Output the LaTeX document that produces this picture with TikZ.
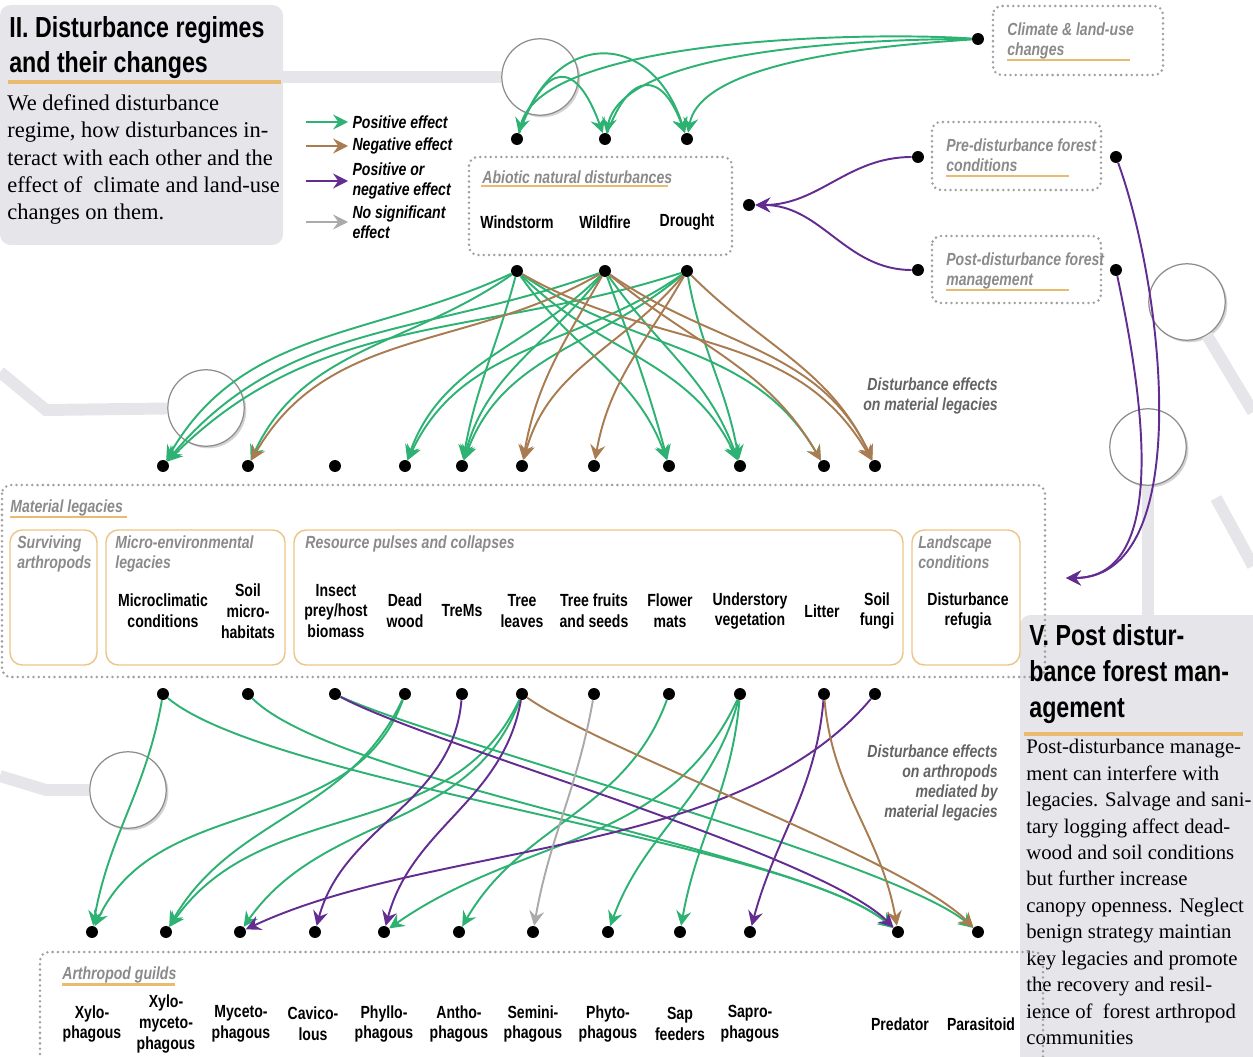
\documentclass[tikz,border=0pt]{standalone}
\usepackage{fontspec}
\setmainfont{Liberation Serif}
\newfontfamily\cond[FakeStretch=0.8]{Liberation Sans}
\usetikzlibrary{arrows.meta,shadows,positioning}

\definecolor{posc}{RGB}{46,178,115}
\definecolor{negc}{RGB}{168,124,80}
\definecolor{ambc}{RGB}{98,44,145}
\definecolor{nsec}{RGB}{170,170,170}
\definecolor{panel}{RGB}{230,230,234}
\definecolor{uorange}{RGB}{232,187,112}
\definecolor{titlegrey}{RGB}{138,138,138}
\definecolor{capgrey}{RGB}{100,100,100}
\definecolor{boxgrey}{RGB}{160,160,160}

\tikzset{
  dot/.style={circle, fill=black, inner sep=0pt, minimum size=6.8pt},
  lbl/.style={font=\cond\bfseries\fontsize{10}{11.9}\selectfont, align=center, inner sep=0pt},
  ttl/.style={font=\cond\bfseries\itshape\fontsize{10}{11.9}\selectfont, text=titlegrey, align=left, anchor=north west, inner sep=0pt},
  capt/.style={font=\cond\bfseries\itshape\fontsize{10}{11.5}\selectfont, text=capgrey, align=right, anchor=north east, inner sep=0pt},
  legtxt/.style={font=\cond\bfseries\itshape\fontsize{10}{11.3}\selectfont, align=left, anchor=west, inner sep=2.4pt},
  head/.style={font=\cond\bfseries\fontsize{16.5}{19.8}\selectfont, align=left, anchor=north west, inner sep=0pt},
  body/.style={font=\fontsize{12.8}{15.6}\selectfont, align=left, anchor=north west, inner sep=0pt},
  uline/.style={draw=uorange, line width=1.7pt},
  dotbox/.style={draw=boxgrey, line width=1.6pt, dash pattern=on 0pt off 3pt, line cap=round, rounded corners=5pt},
  catbox/.style={draw=uorange!85, line width=0.8pt, rounded corners=7pt},
  band/.style={draw=panel, line width=6.8pt},
  lens/.style={circle, draw=black!45, line width=0.7pt, fill=white, minimum size=43.5pt,
    drop shadow={opacity=0.35, shadow xshift=1.2pt, shadow yshift=-1.2pt}},
  eff/.style={line width=1.1pt, >={Stealth[length=8.5pt,width=8.5pt,inset=3pt]}, ->},
  posfx/.style={eff, color=posc},
  negfx/.style={eff, color=negc},
  ambfx/.style={eff, color=ambc},
  nsfx/.style={eff, color=nsec}
}

\begin{document}
\begin{tikzpicture}[x=0.02cm,y=-0.02cm]
  \useasboundingbox (0,0) rectangle (1253,1057);

  \fill[panel, rounded corners=6pt] (0,5) rectangle (283,245);
  \fill[panel, rounded corners=6pt] (1020,615) rectangle (1270,1075);

  \node[lens] (lensA) at (540,77) {};
  \node[lens] (lensB) at (206,408) {};
  \node[lens] (lensC) at (128,790) {};
  \node[lens] (lensD) at (1187,302) {};
  \node[lens] (lensE) at (1148,447) {};

  \draw[band] (283,77) -- (lensA);
  \draw[band] (0,372) -- (46,410) -- (lensB);
  \draw[band] (0,776) -- (46,790) -- (lensC);
  \draw[band] (lensE) -- (1148,615);
  \draw[band] (lensD) -- (1253,412);
  \draw[band] (1216,498) -- (1253,566);

  % section II
  \node[head] (headII) at (9,16) {II. Disturbance regimes\\and their changes};
  \draw[uline, line width=2.2pt] (8,82) -- (281,82);
  \node[body] (textII) at (7,94) {We defined disturbance\\regime, how disturbances in-\\teract with each other and the\\effect of \ climate and land-use\\changes on them.};

  % legend
  \node[legtxt] (leg1) at (348,122) {Positive effect};
  \node[legtxt] (leg2) at (348,146) {Negative effect};
  \node[legtxt] (leg3) at (348,181) {Positive or\\negative effect};
  \node[legtxt] (leg4) at (348,222) {No significant\\effect};
  \coordinate (la1) at (306,122);
  \coordinate (la2) at (306,146);
  \coordinate (la3) at (306,181);
  \coordinate (la4) at (306,222);
  \draw[posfx] (la1) -- (leg1);
  \draw[negfx] (la2) -- (leg2);
  \draw[ambfx] (la3) -- (leg3);
  \draw[nsfx] (la4) -- (leg4);

  % drivers
  \draw[dotbox] (993,6) rectangle (1163,75);
  \node[ttl] (climt) at (1007,22) {Climate \& land-use\\changes};
  \draw[uline] (1007,60) -- (1130,60);
  \draw[dotbox] (932,122) rectangle (1101,190);
  \node[ttl] (pret) at (946,138) {Pre-disturbance forest\\conditions};
  \draw[uline] (946,176) -- (1069,176);
  \draw[dotbox] (932,236) rectangle (1101,303);
  \node[ttl] (postt) at (946,252) {Post-disturbance forest\\management};
  \draw[uline] (946,290) -- (1069,290);

  % abiotic disturbances
  \draw[dotbox] (469,157) rectangle (732,255);
  \node[ttl] (abiot) at (482,170) {Abiotic natural disturbances};
  \draw[uline] (481,186) -- (668,186);
  \node[lbl] (wind) at (517,222) {Windstorm};
  \node[lbl] (fire) at (605,222) {Wildfire};
  \node[lbl] (drgt) at (687,222) {Drought};

  % material legacies
  \draw[dotbox] (2,485) rectangle (1045,677);
  \node[ttl] (matt) at (10,499) {Material legacies};
  \draw[uline] (10,517) -- (127,517);
  \draw[catbox] (10,530) rectangle (97,665);
  \draw[catbox] (106,530) rectangle (285,665);
  \draw[catbox] (294,530) rectangle (903,665);
  \draw[catbox] (912,530) rectangle (1020,665);
  \node[ttl] (survt) at (17,535) {Surviving\\arthropods};
  \node[ttl] (microt) at (115,535) {Micro-environmental\\legacies};
  \node[ttl] (rest) at (305,535) {Resource pulses and collapses};
  \node[ttl] (landt) at (918,535) {Landscape\\conditions};
  \node[lbl] (microcl) at (163,611) {Microclimatic\\conditions};
  \node[lbl] (soilmh) at (248,611) {Soil\\micro-\\habitats};
  \node[lbl] (prey) at (336,611) {Insect\\prey/host\\biomass};
  \node[lbl] (dwood) at (405,611) {Dead\\wood};
  \node[lbl] (trems) at (462,611) {TreMs};
  \node[lbl] (leaves) at (522,611) {Tree\\leaves};
  \node[lbl] (fruits) at (594,611) {Tree fruits\\and seeds};
  \node[lbl] (flower) at (670,611) {Flower\\mats};
  \node[lbl] (under) at (750,611) {Understory\\vegetation};
  \node[lbl] (litter) at (822,611) {Litter};
  \node[lbl] (fungi) at (877,611) {Soil\\fungi};
  \node[lbl] (refug) at (968,611) {Disturbance\\refugia};

  % section V
  \node[head, font=\cond\bfseries\fontsize{16.5}{20.4}\selectfont] (headV) at (1029,624) {V. Post distur-\\bance forest man-\\agement};
  \draw[uline, line width=2.2pt] (1024,734) -- (1243,734);
  \node[body, font=\fontsize{11.8}{15.05}\selectfont] (textV) at (1026,739) {Post-disturbance manage-\\ment can interfere with\\legacies. Salvage and sani-\\tary logging affect dead-\\wood and soil conditions\\but further increase\\canopy openness. Neglect\\benign strategy maintian\\key legacies and promote\\the recovery and resil-\\ience of \ forest arthropod\\communities};

  % arthropod guilds
  \draw[dotbox] (40,1075) -- (40,952) -- (1043,952) -- (1043,1075);
  \node[ttl] (guildt) at (62,966) {Arthropod guilds};
  \draw[uline] (62,984) -- (175,984);
  \node[lbl] (xylo) at (92,1024) {Xylo-\\phagous};
  \node[lbl] (xymy) at (166,1024) {Xylo-\\myceto-\\phagous};
  \node[lbl] (myce) at (241,1024) {Myceto-\\phagous};
  \node[lbl] (cavi) at (313,1024) {Cavico-\\lous};
  \node[lbl] (phyl) at (384,1024) {Phyllo-\\phagous};
  \node[lbl] (anth) at (459,1024) {Antho-\\phagous};
  \node[lbl] (semi) at (533,1024) {Semini-\\phagous};
  \node[lbl] (phyt) at (608,1024) {Phyto-\\phagous};
  \node[lbl] (sapf) at (680,1024) {Sap\\feeders};
  \node[lbl] (sapr) at (750,1024) {Sapro-\\phagous};
  \node[lbl] (pred) at (900,1024) {Predator};
  \node[lbl] (para) at (981,1024) {Parasitoid};

  \node[capt] (capA) at (998,377) {Disturbance effects\\on material legacies};
  \node[capt] (capB) at (998,744) {Disturbance effects\\on arthropods\\mediated by\\material legacies};

  % dots
  \node[dot] (clim) at (978,39) {};
  \node[dot] (wsT) at (517,139) {};
  \node[dot] (wfT) at (605,139) {};
  \node[dot] (drT) at (687,139) {};
  \node[dot] (wsB) at (517,271) {};
  \node[dot] (wfB) at (605,271) {};
  \node[dot] (drB) at (687,271) {};
  \node[dot] (abio) at (749,205) {};
  \node[dot] (preL) at (918,157) {};
  \node[dot] (preR) at (1116,157) {};
  \node[dot] (postL) at (918,270) {};
  \node[dot] (postR) at (1116,270) {};
  \coordinate (mgmt) at (1066,578);
  \foreach \x [count=\i] in {163,248,335,405,462,522,594,669,740,824,875} {
    \node[dot] (lt\i) at (\x,466) {};
    \node[dot] (lb\i) at (\x,694) {};
  }
  \foreach \x [count=\i] in {92,166,240,315,384,459,533,608,680,750,898,978}
    \node[dot] (g\i) at (\x,932) {};

  % drivers -> disturbances
  \path[posfx]
    (clim) edge[out=176,in=75,looseness=0.55] (wsT)
    (clim) edge[out=180,in=78,looseness=0.6] (wfT)
    (clim) edge[out=184,in=80,looseness=0.65] (drT)
    (wsT) edge[out=70,in=110,looseness=2.4] (wfT)
    (wsT) edge[out=72,in=108,looseness=1.7] (drT)
    (wfT) edge[out=70,in=110,looseness=2.2] (drT);
  \path[ambfx]
    (preL) edge[out=180,in=0] (abio)
    (postL) edge[out=180,in=0] (abio)
    (preR) edge[out=-70,in=0,looseness=0.8] (mgmt)
    (postR) edge[out=-78,in=0,looseness=0.9] (mgmt);

  % disturbances -> legacies
  \path[posfx]
    (wsB) edge[out=205,in=60] (lt1)
    (wsB) edge[out=215,in=65] (lt2)
    (wsB) edge[out=255,in=80] (lt5)
    (wsB) edge[out=-55,in=110] (lt8)
    (wsB) edge[out=-45,in=115] (lt9)
    (wsB) edge[out=-35,in=120] (lt10)
    (wfB) edge[out=200,in=50] (lt1)
    (wfB) edge[out=225,in=70] (lt4)
    (wfB) edge[out=232,in=75] (lt5)
    (wfB) edge[out=-70,in=105] (lt8)
    (wfB) edge[out=-55,in=110] (lt9)
    (drB) edge[out=198,in=45] (lt1)
    (drB) edge[out=215,in=65] (lt4)
    (drB) edge[out=220,in=70] (lt5)
    (drB) edge[out=-80,in=100] (lt9);
  \path[negfx]
    (wsB) edge[out=-30,in=120] (lt11)
    (wfB) edge[out=210,in=60] (lt2)
    (wfB) edge[out=240,in=80] (lt6)
    (wfB) edge[out=-40,in=120] (lt10)
    (wfB) edge[out=-35,in=115] (lt11)
    (drB) edge[out=230,in=75] (lt6)
    (drB) edge[out=240,in=80] (lt7)
    (drB) edge[out=-45,in=115] (lt11);

  % legacies -> guilds
  \path[posfx]
    (lb1) edge[out=-100,in=80] (g1)
    (lb1) edge[out=-40,in=140,looseness=0.45] (g11)
    (lb2) edge[out=-45,in=140,looseness=0.45] (g11)
    (lb3) edge[out=-25,in=140,looseness=0.4] (g12)
    (lb4) edge[out=-110,in=65] (g1)
    (lb4) edge[out=-115,in=60] (g2)
    (lb6) edge[out=-115,in=55] (g2)
    (lb6) edge[out=-110,in=55] (g3)
    (lb8) edge[out=-110,in=60] (g6)
    (lb9) edge[out=-115,in=35] (g5)
    (lb9) edge[out=-105,in=70] (g8)
    (lb9) edge[out=-95,in=80] (g9);
  \path[ambfx]
    (lb3) edge[out=-28,in=135,looseness=0.45] (g11)
    (lb5) edge[out=-95,in=75] (g4)
    (lb6) edge[out=-100,in=75] (g5)
    (lb10) edge[out=-95,in=75] (g10)
    (lb11) edge[out=-130,in=25,looseness=0.8] (g3);
  \path[negfx]
    (lb6) edge[out=-35,in=135,looseness=0.5] (g12)
    (lb10) edge[out=-85,in=100] (g11);
  \path[nsfx]
    (lb7) edge[out=-100,in=80] (g7);
\end{tikzpicture}
\end{document}
